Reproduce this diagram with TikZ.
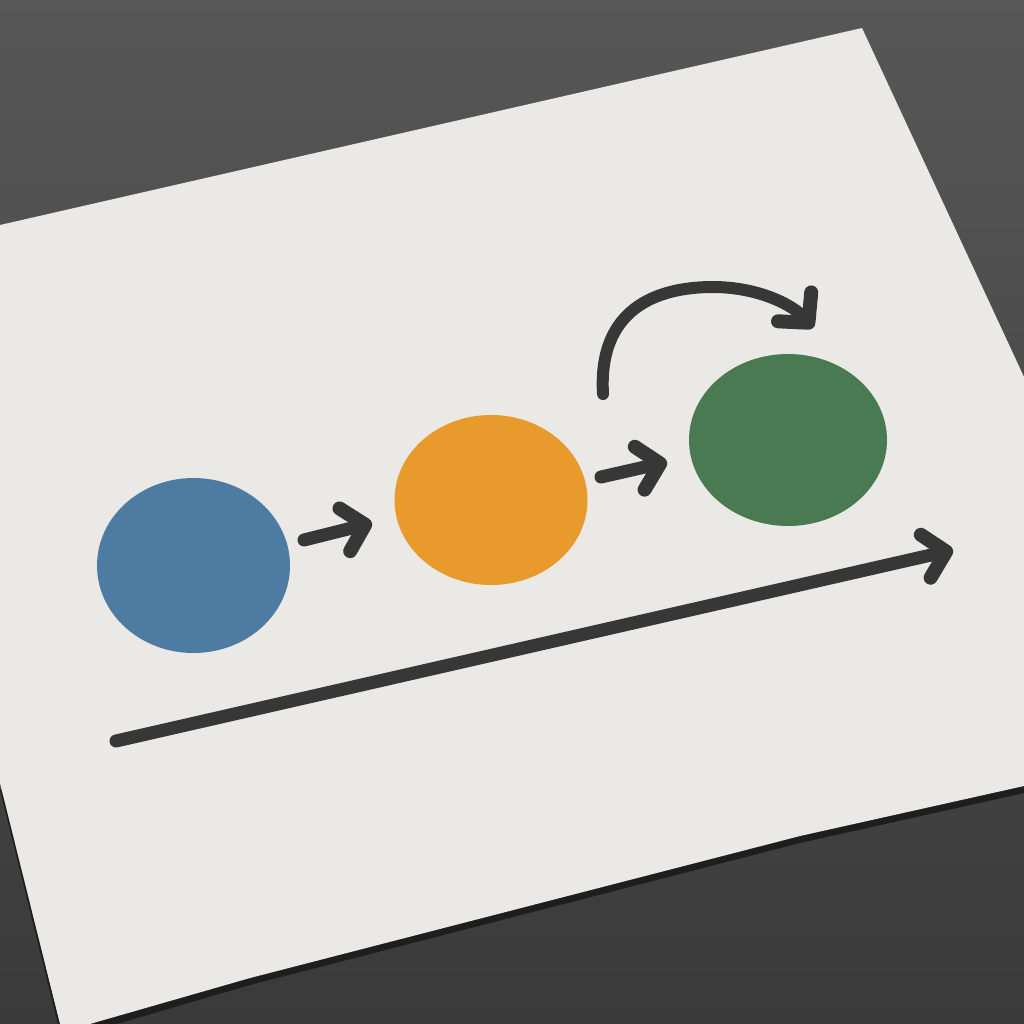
\documentclass[tikz,border=0pt]{standalone}
\usetikzlibrary{arrows.meta,shapes.geometric}
\definecolor{bgdark}{HTML}{4E4E4E}
\definecolor{bgdeep}{HTML}{3A3A3A}
\definecolor{cardc}{HTML}{EAE9E5}
\definecolor{edgec}{HTML}{1E1E1E}
\definecolor{inkc}{HTML}{373737}
\definecolor{bluec}{HTML}{4E7BA1}
\definecolor{orangec}{HTML}{E99A2C}
\definecolor{greenc}{HTML}{4A7A52}
\tikzset{
  dot/.style={ellipse, inner sep=0pt, draw=none},
  ink/.style={draw=inkc, line width=13pt, line cap=round, line join=round,
    -{Straight Barb[round, length=21pt, width=44pt, line width=14pt]}},
}
\begin{document}
\begin{tikzpicture}[x=1pt,y=-1pt]
\useasboundingbox (0,0) rectangle (1024,1024);
% background
\shade[top color=bgdark!95!white, bottom color=bgdeep] (0,0) rectangle (1024,1024);
% card thickness / shadow
\fill[edgec] (0,790) -- (62,1040) -- (250,985) -- (800,843) -- (1024,793) -- (1024,380) -- cycle;
% card face
\fill[cardc] (0,225) -- (862,28) -- (1024,377) -- (1024,786) -- (800,836) -- (250,978) -- (62,1032) -- (0,783) -- cycle;
% circles
\node[dot, fill=bluec, minimum width=193pt, minimum height=175pt] (blue) at (193.5,565.5) {};
\node[dot, fill=orangec, minimum width=193pt, minimum height=170pt] (orange) at (491,500) {};
\node[dot, fill=greenc, minimum width=198pt, minimum height=172pt] (green) at (788,440) {};
% arrow end points
\coordinate (a1s) at (304,540);
\coordinate (a1e) at (372,523);
\coordinate (a2s) at (601,477);
\coordinate (a2e) at (667,462);
\coordinate (cs) at (603,394);
\coordinate (ctop) at (713,287);
\coordinate (ce) at (813,328);
\coordinate (ls) at (116,741);
\coordinate (le) at (953,550);
% arrows
\draw[ink] (a1s) -- (a1e);
\draw[ink] (a2s) -- (a2e);
\draw[ink, line width=12pt] (cs) .. controls (598,310) and (655,287) .. (ctop) .. controls (758,287) and (793,305) .. (ce);
\draw[ink] (ls) -- (le);
\end{tikzpicture}
\end{document}
